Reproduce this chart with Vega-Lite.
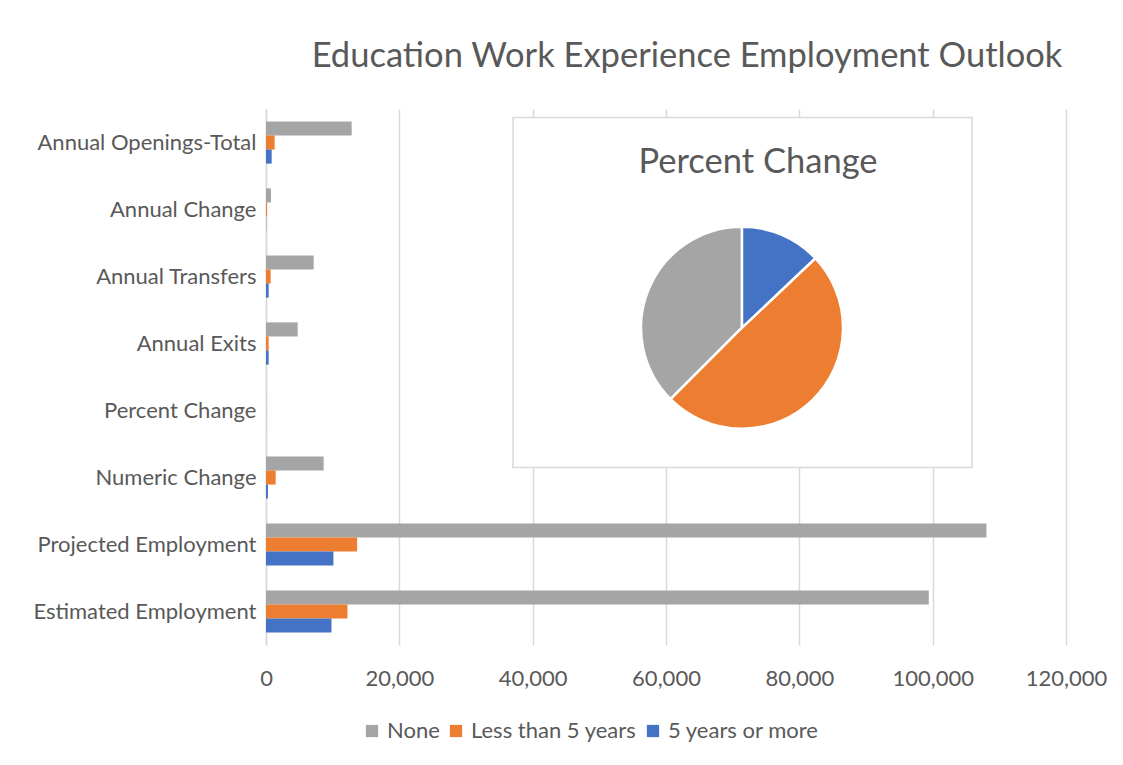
{
  "$schema": "https://vega.github.io/schema/vega-lite/v6.json",
  "autosize": "none",
  "width": 800,
  "height": 536,
  "padding": {"left": 266, "top": 109, "right": 57, "bottom": 120},
  "background": "white",
  "config": {
    "font": "Lato",
    "view": {"stroke": null}
  },
  "title": {
    "text": "Education Work Experience Employment Outlook",
    "fontSize": 34.5,
    "font": "Lato",
    "fontWeight": "normal",
    "color": "#595959",
    "anchor": "middle",
    "dx": 21,
    "offset": 35
  },
  "data": {
    "values": [
      {"category": "Annual Openings-Total", "series": "None", "value": 12850},
      {"category": "Annual Openings-Total", "series": "Less than 5 years", "value": 1300},
      {"category": "Annual Openings-Total", "series": "5 years or more", "value": 850},
      {"category": "Annual Change", "series": "None", "value": 750},
      {"category": "Annual Change", "series": "Less than 5 years", "value": 145},
      {"category": "Annual Change", "series": "5 years or more", "value": 29},
      {"category": "Annual Transfers", "series": "None", "value": 7150},
      {"category": "Annual Transfers", "series": "Less than 5 years", "value": 700},
      {"category": "Annual Transfers", "series": "5 years or more", "value": 400},
      {"category": "Annual Exits", "series": "None", "value": 4750},
      {"category": "Annual Exits", "series": "Less than 5 years", "value": 400},
      {"category": "Annual Exits", "series": "5 years or more", "value": 400},
      {"category": "Percent Change", "series": "None", "value": 8.7},
      {"category": "Percent Change", "series": "Less than 5 years", "value": 11.5},
      {"category": "Percent Change", "series": "5 years or more", "value": 3.0},
      {"category": "Numeric Change", "series": "None", "value": 8650},
      {"category": "Numeric Change", "series": "Less than 5 years", "value": 1450},
      {"category": "Numeric Change", "series": "5 years or more", "value": 290},
      {"category": "Projected Employment", "series": "None", "value": 108070},
      {"category": "Projected Employment", "series": "Less than 5 years", "value": 13670},
      {"category": "Projected Employment", "series": "5 years or more", "value": 10110},
      {"category": "Estimated Employment", "series": "None", "value": 99420},
      {"category": "Estimated Employment", "series": "Less than 5 years", "value": 12220},
      {"category": "Estimated Employment", "series": "5 years or more", "value": 9820}
    ]
  },
  "layer": [
    {
      "mark": {"type": "bar"},
      "encoding": {
        "y": {
          "field": "category",
          "type": "nominal",
          "sort": ["Annual Openings-Total", "Annual Change", "Annual Transfers", "Annual Exits", "Percent Change", "Numeric Change", "Projected Employment", "Estimated Employment"],
          "scale": {"paddingInner": 0.37, "paddingOuter": 0.185},
          "axis": {
            "title": null,
            "ticks": false,
            "domain": true,
            "domainColor": "#D9D9D9",
            "domainWidth": 1.5,
            "labelPadding": 10,
            "labelFontSize": 22,
            "labelLimit": 400,
            "labelColor": "#595959",
            "labelFont": "Lato",
            "grid": false
          }
        },
        "yOffset": {
          "field": "series",
          "sort": ["None", "Less than 5 years", "5 years or more"]
        },
        "x": {
          "field": "value",
          "type": "quantitative",
          "scale": {"domain": [0, 120000]},
          "axis": {
            "title": null,
            "values": [0, 20000, 40000, 60000, 80000, 100000, 120000],
            "labelExpr": "format(datum.value, ',')",
            "labelFlush": false,
            "labelOverlap": false,
            "labelBound": false,
            "grid": true,
            "gridColor": "#D9D9D9",
            "gridWidth": 1.5,
            "domain": false,
            "ticks": false,
            "labelPadding": 23,
            "labelFontSize": 22,
            "labelColor": "#595959",
            "labelFont": "Lato"
          }
        },
        "color": {
          "field": "series",
          "type": "nominal",
          "scale": {
            "domain": ["None", "Less than 5 years", "5 years or more"],
            "range": ["#A5A5A5", "#ED7D31", "#4472C4"]
          },
          "legend": {
            "title": null,
            "orient": "none",
            "direction": "horizontal",
            "legendX": 95,
            "legendY": 611,
            "symbolType": "square",
            "symbolSize": 150,
            "symbolStrokeWidth": 0,
            "labelFontSize": 22,
            "labelLimit": 400,
            "labelColor": "#595959",
            "labelFont": "Lato",
            "columnPadding": 5,
            "labelOffset": 4
          }
        }
      }
    },
    {
      "layer": [
        {
          "data": {"values": [{"box": "inset"}]},
          "mark": {"type": "rect", "fill": "white", "stroke": "#D9D9D9", "strokeWidth": 1.5},
          "encoding": {
            "x": {"datum": 37050, "type": "quantitative"},
            "x2": {"datum": 105900},
            "y": {"datum": 0.331, "type": "quantitative", "scale": {"domain": [0, 1]}, "axis": null},
            "y2": {"datum": 0.984}
          }
        },
        {
          "data": {"values": [{"label": "Percent Change"}]},
          "mark": {"type": "text", "fontSize": 34.5, "color": "#595959", "font": "Lato", "align": "center", "baseline": "middle"},
          "encoding": {
            "x": {"datum": 73800, "type": "quantitative"},
            "y": {"datum": 0.9, "type": "quantitative"},
            "text": {"field": "label"}
          }
        },
        {
          "transform": [{"filter": "datum.category === 'Percent Change'"}],
          "mark": {"type": "arc", "outerRadius": 101, "stroke": "white", "strokeWidth": 2.5},
          "encoding": {
            "theta": {"field": "value", "type": "quantitative", "stack": true},
            "order": {"field": "series", "sort": "ascending"},
            "color": {"field": "series", "type": "nominal"},
            "x": {"datum": 71400, "type": "quantitative"},
            "y": {"datum": 0.592, "type": "quantitative"}
          }
        }
      ]
    }
  ],
  "resolve": {"scale": {"y": "independent"}}
}
